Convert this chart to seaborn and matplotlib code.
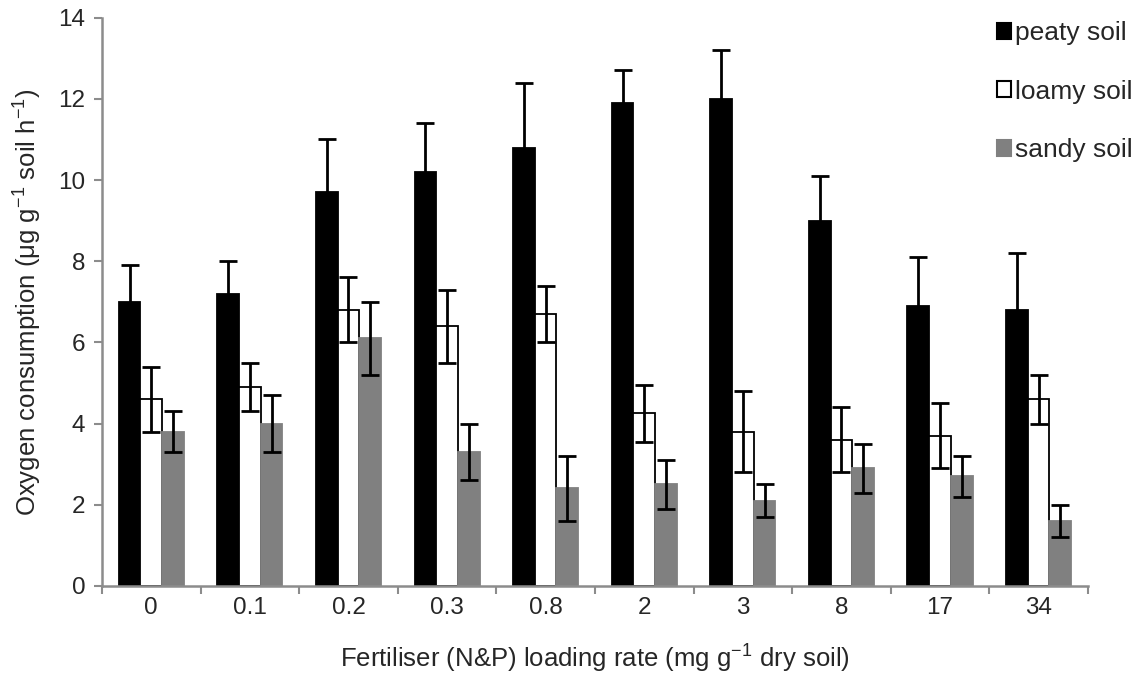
import numpy as np
import pandas as pd
import matplotlib
matplotlib.use('Agg')
import matplotlib.pyplot as plt
import seaborn as sns

# データ
rates = ['0', '0.1', '0.2', '0.3', '0.8', '2', '3', '8', '17', '34']
soils = ['peaty soil', 'loamy soil', 'sandy soil']
peaty = [7.0, 7.2, 9.7, 10.2, 10.8, 11.9, 12.0, 9.0, 6.9, 6.8]
peaty_err = [0.9, 0.8, 1.3, 1.2, 1.6, 0.8, 1.2, 1.1, 1.2, 1.4]
loamy = [4.6, 4.9, 6.8, 6.4, 6.7, 4.25, 3.8, 3.6, 3.7, 4.6]
loamy_err = [0.8, 0.6, 0.8, 0.9, 0.7, 0.7, 1.0, 0.8, 0.8, 0.6]
sandy = [3.8, 4.0, 6.1, 3.3, 2.4, 2.5, 2.1, 2.9, 2.7, 1.6]
sandy_err = [0.5, 0.7, 0.9, 0.7, 0.8, 0.6, 0.4, 0.6, 0.5, 0.4]

sns.set_style('white')
plt.rcParams['font.family'] = ['Liberation Sans', 'DejaVu Sans']
plt.rcParams['mathtext.fontset'] = 'custom'
plt.rcParams['mathtext.rm'] = 'Liberation Sans'
plt.rcParams['mathtext.it'] = 'Liberation Sans:italic'

df = pd.DataFrame({
    'rate': rates * 3,
    'soil': sum([[s] * len(rates) for s in soils], []),
    'value': peaty + loamy + sandy,
})
errs = [peaty_err, loamy_err, sandy_err]
vals = [peaty, loamy, sandy]

fig = plt.figure(figsize=(11.38, 6.82), dpi=100)
ax = fig.add_axes([0.0896, 0.141, 0.8664, 0.833])

sns.barplot(data=df, x='rate', y='value', hue='soil', order=rates, hue_order=soils,
            palette=['black', 'white', '#808080'], width=0.66, gap=0,
            errorbar=None, ax=ax, legend=False)

# 枠線とエラーバー
edges = ['black', 'black', '#808080']
bar_conts = list(ax.containers)
for k, cont in enumerate(bar_conts):
    xs = []
    for bar in cont:
        bar.set_edgecolor(edges[k])
        bar.set_linewidth(1.3)
        xs.append(bar.get_x() + bar.get_width() / 2)
    ax.errorbar(xs, vals[k], yerr=errs[k], fmt='none', ecolor='black',
                elinewidth=2, capsize=6.5, capthick=2, zorder=5)

ax.set_xlim(-0.5, 9.5)
ax.set_ylim(0, 14)
ax.set_yticks(np.arange(0, 15, 2))

sns.despine(ax=ax)
for s in ['left', 'bottom']:
    ax.spines[s].set_color('#8c8c8c')
    ax.spines[s].set_linewidth(1.8)

ax.tick_params(axis='y', which='major', direction='out', length=6, width=1.5,
               color='#8c8c8c', labelsize=17.5, pad=6, left=True)
ax.tick_params(axis='x', which='major', length=0, labelsize=17.5, pad=8)
ax.set_xticks(np.arange(-0.5, 10, 1), minor=True)
ax.tick_params(axis='x', which='minor', direction='out', length=6, width=1.5,
               color='#8c8c8c', bottom=True)

ax.set_xlabel(r'Fertiliser (N&P) loading rate (mg g$^{\mathrm{-1}}$ dry soil)',
              fontsize=18.5, labelpad=17)
ax.set_ylabel(r'Oxygen consumption ($\mathrm{\mu}$g g$^{\mathrm{-1}}$ soil h$^{\mathrm{-1}}$)',
              fontsize=18.5, labelpad=10)

# 凡例
handles = [plt.Rectangle((0, 0), 1, 1, facecolor=c, edgecolor=e, linewidth=1.5)
           for c, e in zip(['black', 'white', '#808080'], ['black', 'black', '#808080'])]
fig.legend(handles, soils, loc='upper right', bbox_to_anchor=(1.007, 0.988),
           frameon=False, fontsize=19, handlelength=0.55, handleheight=0.55,
           handletextpad=0.15, labelspacing=1.3, borderaxespad=0.1)

fig.savefig('out.png', dpi=100)
